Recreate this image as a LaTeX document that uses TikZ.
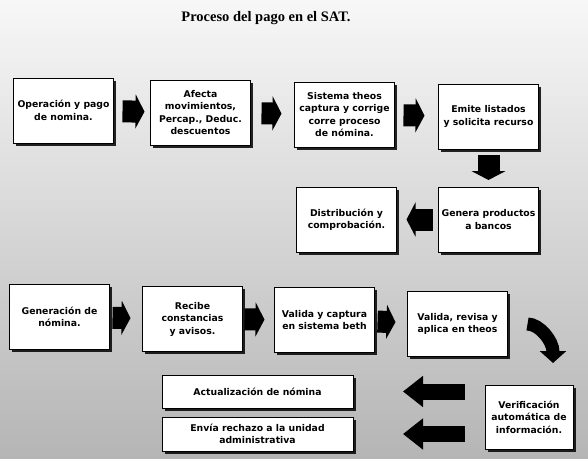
\documentclass[tikz,border=0pt]{standalone}
\usepackage{fontspec}
\setmainfont{Liberation Serif}
\newfontfamily\boxfont{DejaVu Sans}
\usepackage{tikz}
\usetikzlibrary{arrows.meta, positioning, shadows}
\tikzset{proc node/.style={rectangle,draw,line width=1pt,fill=white,minimum width=100pt,minimum height=65pt,inner sep=2pt,outer sep=0pt,align=center,
    font=\boxfont\bfseries\fontsize{9.3}{12.5}\selectfont,
    drop shadow={shadow xshift=2.5pt,shadow yshift=-2.5pt,fill=black,opacity=0.85}},
  flow arrow/.style={line width=22pt,-{Triangle[length=9pt,width=34pt]}},
  back arrow/.style={line width=16pt,-{Triangle[length=20pt,width=30pt]}},}

\begin{document}
\begin{tikzpicture}[x=1pt, y=-1pt]
   \shade[top color=gray!6, middle color=gray!38, bottom color=gray!58] (0,0) rectangle (588,458);
   \useasboundingbox (0,0) rectangle (588,458);
   \node[font=\bfseries\fontsize{14.5}{16}\selectfont] (title) at (266,18) {Proceso del pago en el SAT.};
   % first row
   \node[proc node] (1) at (63.5,110.5) {Operación y pago\\de nomina.};
   \node[proc node] (2) [right = 37pt of 1, yshift=-2pt]{Afecta\\movimientos,\\Percap., Deduc.\\descuentos};
   \node[proc node] (3) [right = 44pt of 2, yshift=-2pt]{Sistema theos\\captura y corrige\\corre proceso\\de nómina.};
   \node[proc node] (4) [right = 44pt of 3, yshift=-2pt]{Emite listados\\y solicita recurso};
   % second row
   \node[proc node] (5) [below = 38pt of 4]{Genera productos\\a bancos};
   \node[proc node] (6) [left = 42pt of 5]{Distribución y\\comprobación.};
   % third row
   \node[proc node] (7) at (59.5,317) {Generación de\\nómina.};
   \node[proc node] (8) [right = 33pt of 7, yshift=-2pt]{Recibe\\constancias\\y avisos.};
   \node[proc node] (9) [right = 32pt of 8, yshift=-1pt]{Valida y captura\\en sistema beth};
   \node[proc node] (10) [right = 33pt of 9, yshift=-4pt]{Valida, revisa y\\aplica en theos};
   % last row
   \node[proc node, minimum width=88pt, minimum height=64pt] (13) at (529,417) {Verificación\\automática de\\información.};
   \node[proc node, minimum width=191pt, minimum height=33pt] (11) at (257.5,391.5) {Actualización de nómina};
   \node[proc node, minimum width=191pt, minimum height=34pt] (12) [below = 9pt of 11]{Envía rechazo a la unidad\\administrativa};
   \coordinate (turn) at (553,363);
   \path[draw, flow arrow]
   (1) edge[shorten <=9pt, shorten >=6pt] (2)
   (2) edge[shorten <=11pt, shorten >=13pt] (3)
   (3) edge[shorten <=9pt, shorten >=14pt] (4)
   (4) edge[shorten <=6pt, shorten >=7pt] (5)
   (5) edge[shorten <=6pt, shorten >=10pt] (6)
   (7) edge[shorten <=3pt, shorten >=12pt] (8)
   (8) edge[shorten <=2pt, shorten >=10pt] (9)
   (9) edge[shorten <=3pt, shorten >=12pt] (10);
   \draw[line width=13pt, -{Triangle[length=12pt,width=26pt]}, shorten <=20pt] (10.east) .. controls +(32,0) and +(0,-22) .. (turn);
   \draw[back arrow, shorten <=20pt, shorten >=50pt] (13.west |- 11.east) -- (11.east);
   \draw[back arrow, shorten <=20pt, shorten >=50pt] (13.west |- 12.east) -- (12.east);
\end{tikzpicture}
\end{document}
